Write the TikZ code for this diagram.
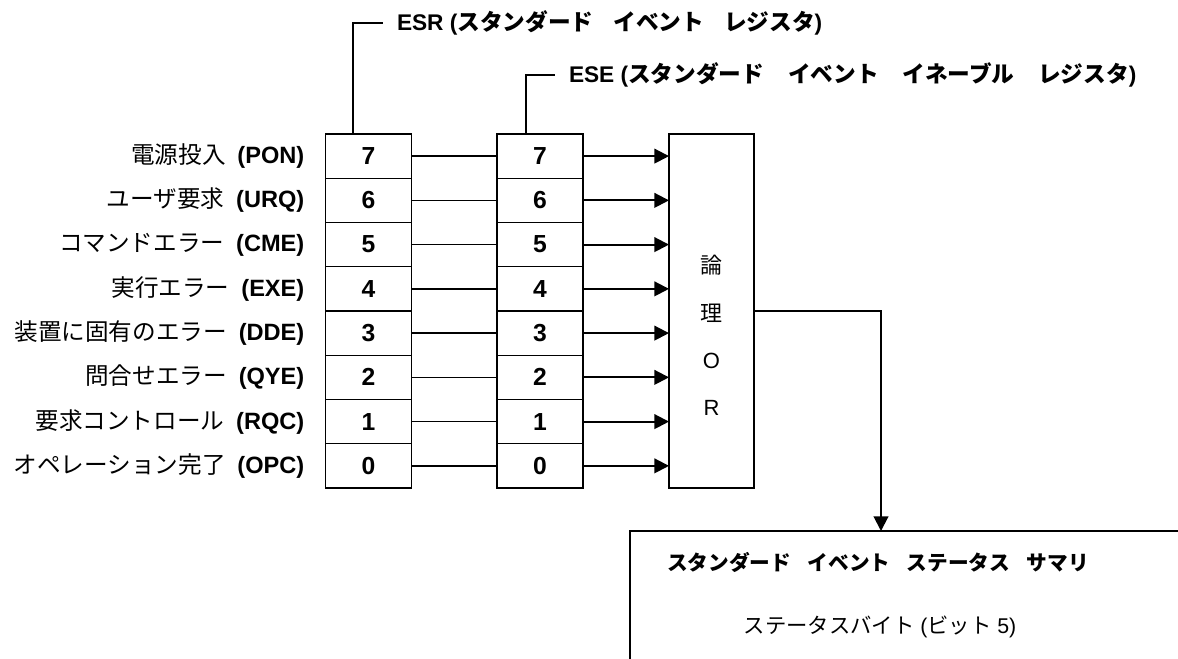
\documentclass[tikz,border=0pt]{standalone}
\usepackage{fontspec}
\setmainfont{Liberation Sans}
\newfontfamily\jp{Noto Sans CJK JP}
\newcommand{\jgap}{\hspace{0.88em}}
\newcommand{\jgapw}{\hspace{1.05em}}
\usetikzlibrary{arrows.meta,calc}
\begin{document}
\begin{tikzpicture}[x=0.75pt,y=-0.75pt,
  line width=1pt,
  cell/.style={draw,minimum width=64.5pt,minimum height=33.2pt,inner sep=0pt,outer sep=0pt,
    font=\fontsize{18.5}{22}\selectfont\bfseries},
  lbl/.style={anchor=east,inner sep=0pt,font=\fontsize{17.7}{21}\selectfont},
  ttl/.style={anchor=west,inner xsep=10.5pt,inner ysep=0pt,outer sep=0pt,font=\fontsize{17}{20}\selectfont\bfseries},
  arr/.style={line width=1.5pt,-{Triangle[length=11pt,width=11pt]}},
  ortxt/.style={inner sep=0pt,font=\fontsize{16.5}{20}\selectfont}]
\clip (0,0) rectangle (1178,658);
\useasboundingbox (0,0) rectangle (1178,658);
% registers
\foreach \i in {7,...,0}{
  \pgfmathsetmacro{\yc}{134+44.25*(7-\i)+22.1}
  \node[cell] (esr\i) at (368.5,\yc) {\i};
  \node[cell] (ese\i) at (540,\yc) {\i};
}
\node[lbl] (l7) at (305,156) {{\jp 電源投入}\hspace{0.5em}\textbf{(PON)}};
\node[lbl] (l6) at (305,200.5) {{\jp ユーザ要求}\hspace{0.5em}\textbf{(URQ)}};
\node[lbl] (l5) at (305,244.7) {{\jp コマンドエラー}\hspace{0.5em}\textbf{(CME)}};
\node[lbl] (l4) at (305,289) {{\jp 実行エラー}\hspace{0.5em}\textbf{(EXE)}};
\node[lbl] (l3) at (305,333.2) {{\jp 装置に固有のエラー}\hspace{0.5em}\textbf{(DDE)}};
\node[lbl] (l2) at (305,377.5) {{\jp 問合せエラー}\hspace{0.5em}\textbf{(QYE)}};
\node[lbl] (l1) at (305,421.7) {{\jp 要求コントロール}\hspace{0.5em}\textbf{(RQC)}};
\node[lbl] (l0) at (305,466) {{\jp オペレーション完了}\hspace{0.5em}\textbf{(OPC)}};
% OR box
\node[draw,minimum width=63.75pt,minimum height=265.5pt,inner sep=0pt,outer sep=0pt] (orb) at (711.5,311) {};
\node[ortxt] (o1) at (711.5,265) {\jp 論};
\node[ortxt] (o2) at (711.5,313) {\jp 理};
\node[ortxt] (o3) at (711.5,361) {O};
\node[ortxt] (o4) at (711.5,408) {R};
% connections
\foreach \i in {0,...,7}{
  \draw (esr\i.east) -- (ese\i.west);
  \draw[arr] (ese\i.east) -- (ese\i.east -| orb.west);
}
% titles
\node[ttl] (esrt) at (383,23) {ESR ({\jp\bfseries スタンダード\jgap イベント\jgap レジスタ})};
\node[ttl] (eset) at (555,75) {ESE ({\jp\bfseries スタンダード\jgapw イベント\jgapw イネーブル\jgapw レジスタ})};
\draw ($(esr7.north)+(-15.5,0)$) |- (esrt.west);
\draw ($(ese7.north)+(-14,0)$) |- (eset.west);
% summary box
\node[draw,anchor=north west,minimum width=600pt,minimum height=200pt,inner sep=0pt,outer sep=0pt] (sum) at (630,531) {};
\coordinate (sumtop) at (881,531);
\draw[arr] (orb.east) -| (sumtop);
\node[inner sep=0pt,font=\fontsize{15.5}{20}\selectfont] (st1) at (878,562) {\jp\bfseries スタンダード\hspace{0.8em}イベント\hspace{0.8em}ステータス\hspace{0.8em}サマリ};
\node[inner sep=0pt,font=\fontsize{16}{20}\selectfont] (st2) at (880,627) {{\jp ステータスバイト} ({\jp ビット}\ 5)};
\end{tikzpicture}
\end{document}
